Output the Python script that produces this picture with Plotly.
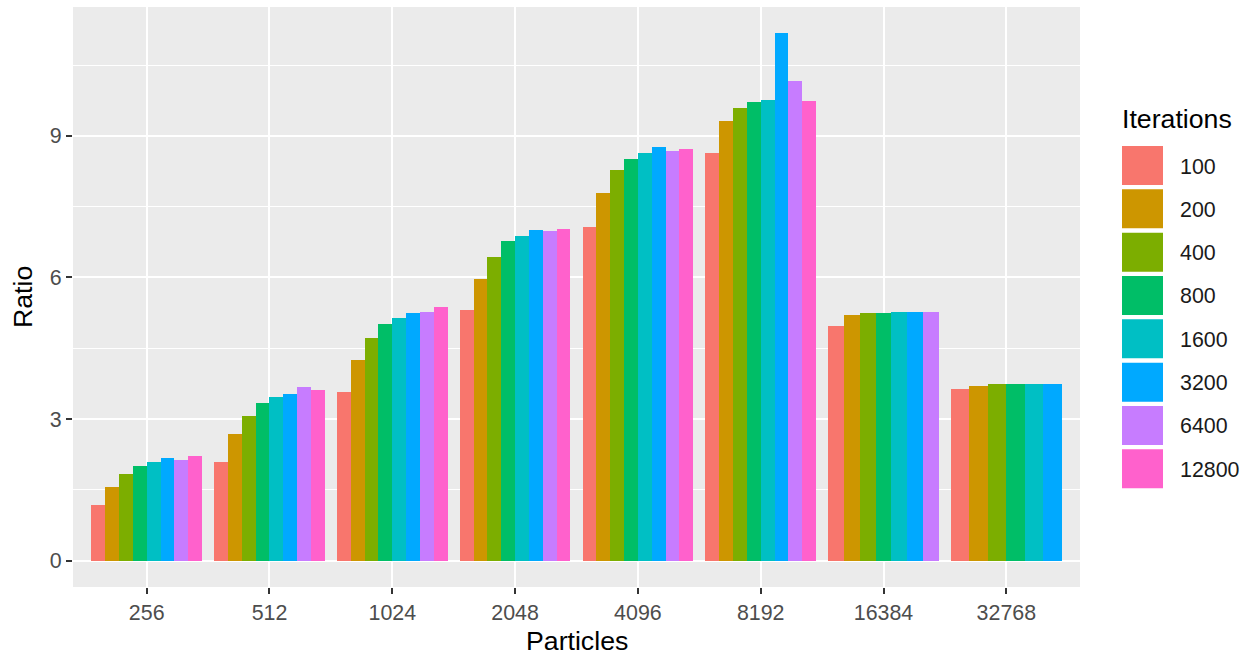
import plotly.graph_objects as go

particles = ["256", "512", "1024", "2048", "4096", "8192", "16384", "32768"]
iterations = ["100", "200", "400", "800", "1600", "3200", "6400", "12800"]
colors = ["#F8766D", "#CD9600", "#7CAE00", "#00BE67", "#00BFC4", "#00A9FF", "#C77CFF", "#FF61CC"]

r_100 = [1.17, 2.10, 3.57, 5.30, 7.07, 8.64, 4.98, 3.64]
r_200 = [1.56, 2.68, 4.25, 5.97, 7.78, 9.31, 5.21, 3.70]
r_400 = [1.84, 3.07, 4.72, 6.43, 8.28, 9.59, 5.24, 3.74]
r_800 = [2.01, 3.35, 5.01, 6.77, 8.51, 9.72, 5.24, 3.74]
r_1600 = [2.10, 3.47, 5.14, 6.87, 8.64, 9.76, 5.27, 3.74]
r_3200 = [2.17, 3.54, 5.24, 7.00, 8.76, 11.17, 5.27, 3.74]
r_6400 = [2.13, 3.67, 5.27, 6.99, 8.67, 10.17, 5.27, None]
r_12800 = [2.22, 3.61, 5.37, 7.03, 8.73, 9.73, None, None]

series = [r_100, r_200, r_400, r_800, r_1600, r_3200, r_6400, r_12800]

# ggplot-like dodge: total width 0.9 split among bars present in each group
counts = [sum(1 for s in series if s[c] is not None) for c in range(len(particles))]
GROUP_W = 0.9

fig = go.Figure()
for i, (name, vals, col) in enumerate(zip(iterations, series, colors)):
    widths = [GROUP_W / n for n in counts]
    offsets = [-GROUP_W / 2 + i * GROUP_W / n for n in counts]
    fig.add_trace(go.Bar(
        x=particles, y=vals, name=name, marker=dict(color=col, line=dict(width=0)),
        width=widths, offset=offsets, showlegend=False,
    ))

L, R, T, B = 73, 160, 7, 66
W, H = 1240, 653
pw, ph = W - L - R, H - T - B

def px_x(px):
    return (px - L) / pw

def px_y(py):
    return (H - B - py) / ph

shapes = []
annotations = []
# manual legend (ggplot style)
key_top0, pitch, key_h = 146, 43.33, 39
for k, (name, col) in enumerate(zip(iterations, colors)):
    top = key_top0 + k * pitch
    shapes.append(dict(type="rect", xref="paper", yref="paper",
                       x0=px_x(1122), x1=px_x(1163), y0=px_y(top + key_h), y1=px_y(top),
                       fillcolor=col, line=dict(width=0)))
    annotations.append(dict(xref="paper", yref="paper", x=px_x(1178), y=px_y(top + key_h / 2 + 1),
                            text=name, showarrow=False, xanchor="left", yanchor="middle",
                            font=dict(family="Liberation Sans", size=21.4, color="#1A1A1A")))
annotations.append(dict(xref="paper", yref="paper", x=px_x(1120), y=px_y(119),
                        text="Iterations", showarrow=False, xanchor="left", yanchor="middle",
                        font=dict(family="Liberation Sans", size=26.7, color="black")))
# axis titles
annotations.append(dict(xref="paper", yref="paper", x=0.5, y=px_y(641),
                        text="Particles", showarrow=False, xanchor="center", yanchor="middle",
                        font=dict(family="Liberation Sans", size=26.7, color="black")))
annotations.append(dict(xref="paper", yref="paper", x=px_x(23), y=0.5, textangle=-90,
                        text="Ratio", showarrow=False, xanchor="center", yanchor="middle",
                        font=dict(family="Liberation Sans", size=26.7, color="black")))

fig.update_layout(
    width=W, height=H, autosize=False,
    margin=dict(l=L, r=R, t=T, b=B, pad=0),
    paper_bgcolor="white", plot_bgcolor="#EBEBEB",
    barmode="overlay", bargap=0,
    shapes=shapes, annotations=annotations,
    font=dict(family="Liberation Sans"),
    xaxis=dict(
        type="category", range=[-0.6, 7.6], showgrid=True, gridcolor="white", gridwidth=2.2,
        ticks="outside", ticklen=6, tickwidth=2, tickcolor="#333333",
        tickfont=dict(family="Liberation Sans", size=21.4, color="#4D4D4D"),
        zeroline=False, showline=False, fixedrange=True,
    ),
    yaxis=dict(
        range=[-0.5585, 11.73], tickvals=[0, 3, 6, 9], ticktext=["0", "3", "6", "9"],
        showgrid=True, gridcolor="white", gridwidth=2.2,
        minor=dict(tickvals=[1.5, 4.5, 7.5, 10.5], showgrid=True, gridcolor="white", gridwidth=1.1, ticks=""),
        ticks="outside", ticklen=6, tickwidth=2, tickcolor="#333333",
        tickfont=dict(family="Liberation Sans", size=21.4, color="#4D4D4D"),
        zeroline=False, showline=False, fixedrange=True,
    ),
)

fig.write_html("out.html")
